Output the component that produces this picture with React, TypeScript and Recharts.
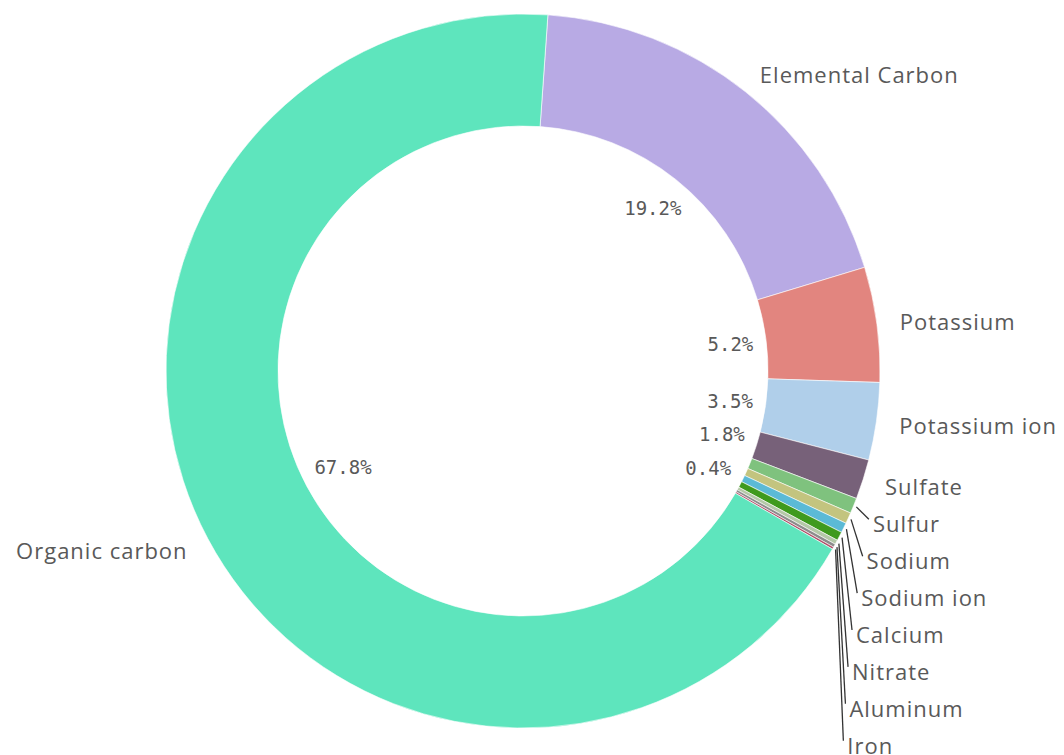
import { PieChart, Pie, Cell } from 'recharts';

// slices in clockwise order, starting just right of 12 o'clock
const COMPONENTS = [
  'Elemental Carbon',
  'Potassium',
  'Potassium ion',
  'Sulfate',
  'Sulfur',
  'Sodium',
  'Sodium ion',
  'Calcium',
  'Nitrate',
  'Aluminum',
  'Iron',
  'Organic carbon',
];
const SHARES = [19.2, 5.2, 3.5, 1.8, 0.7, 0.5, 0.45, 0.4, 0.2, 0.15, 0.1, 67.8];
const SLICE_COLORS = [
  '#b8aae4',
  '#e2857f',
  '#b0cfea',
  '#776179',
  '#7fc27e',
  '#c3c47f',
  '#5bbad6',
  '#3f9a1e',
  '#b4c8a8',
  '#8c8c8c',
  '#b0506a',
  '#5ee5bd',
];
// slices that get a percentage inside the ring
const PCT_LABELLED = ['Elemental Carbon', 'Potassium', 'Potassium ion', 'Sulfate', 'Calcium', 'Organic carbon'];

const data = COMPONENTS.map((name, i) => ({ name, value: SHARES[i] }));
const total = SHARES.reduce((a, b) => a + b, 0);

const W = 1064;
const H = 755;
const CX = 523;
const CY = 371;
const R_OUT = 357;
const R_IN = 245;
const START = 86;

const LABEL_R = 380;
const ROW = 36.9;
const PCT_R = 233;
const PCT_FONT = 19;
const TEXT_COLOR = '#595959';

type OuterPos = { x: number; y: number; anchor: 'start' | 'end'; pushed: boolean };

// natural label spot at the mid angle, pushed down when it would collide with the one above
function layoutOuterLabels(): OuterPos[] {
  const out: OuterPos[] = [];
  let acc = 0;
  let lastRightY = -Infinity;
  let k = 0;
  SHARES.forEach((v) => {
    const mid = START - (360 * (acc + v / 2)) / total;
    acc += v;
    const rad = (-mid * Math.PI) / 180;
    const nx = CX + LABEL_R * Math.cos(rad);
    const ny = CY + LABEL_R * Math.sin(rad);
    const right = nx >= CX;
    let y = ny;
    let x = nx;
    let pushed = false;
    if (right) {
      if (y < lastRightY + ROW) {
        y = lastRightY + ROW;
        pushed = true;
        x = nx - 2 - k * 0.6;
        k += 1;
      }
      lastRightY = y;
    }
    out.push({ x, y, anchor: right ? 'start' : 'end', pushed });
  });
  return out;
}

const outerLabels = layoutOuterLabels();

function renderLabel(props: any) {
  const { cx, cy, midAngle, outerRadius } = props;
  const name: string = props.payload?.name ?? props.name;
  const i = COMPONENTS.indexOf(name);
  const rad = (-midAngle * Math.PI) / 180;
  const ux = Math.cos(rad);
  const uy = Math.sin(rad);
  const pos = outerLabels[i];

  let pct = null;
  if (PCT_LABELLED.includes(name)) {
    const txt = `${((SHARES[i] / total) * 100).toFixed(1)}%`;
    const w = txt.length * PCT_FONT * 0.602;
    const h = 16;
    // keep the outer corner of the text box on a circle just inside the hole
    const ox = Math.sign(ux) * (w / 2);
    const oy = Math.sign(uy) * (h / 2);
    const uo = ux * ox + uy * oy;
    const d = -uo + Math.sqrt(uo * uo - (ox * ox + oy * oy) + PCT_R * PCT_R);
    pct = (
      <text
        x={cx + d * ux}
        y={cy + d * uy}
        textAnchor="middle"
        dominantBaseline="central"
        fontFamily="'DejaVu Sans Mono', monospace"
        fontSize={PCT_FONT}
        fill={TEXT_COLOR}
      >
        {txt}
      </text>
    );
  }

  return (
    <g key={`lbl-${name}`}>
      {pct}
      {pos.pushed && (
        <line
          x1={cx + (outerRadius + 3) * ux}
          y1={cy + (outerRadius + 3) * uy}
          x2={pos.x - 4}
          y2={pos.y - 4}
          stroke="#333"
          strokeWidth={1.3}
        />
      )}
      <text
        x={pos.x}
        y={pos.y}
        textAnchor={pos.anchor}
        dominantBaseline="central"
        fontFamily="'Open Sans', sans-serif"
        fontSize={22}
        letterSpacing={1}
        fill={TEXT_COLOR}
      >
        {name}
      </text>
    </g>
  );
}

export default function App() {
  return (
    <div style={{ position: 'absolute', left: 0, top: 0, width: W, height: H, overflow: 'hidden', background: '#fff' }}>
      <style>{'html,body{margin:0;overflow:hidden}'}</style>
      <PieChart width={W} height={H} margin={{ top: 0, right: 0, bottom: 0, left: 0 }}>
        <Pie
          data={data}
          dataKey="value"
          nameKey="name"
          cx={CX}
          cy={CY}
          innerRadius={R_IN}
          outerRadius={R_OUT}
          startAngle={START}
          endAngle={START - 360}
          stroke="#ffffff"
          strokeWidth={0.6}
          label={renderLabel}
          labelLine={false}
          isAnimationActive={false}
        >
          {data.map((d, i) => (
            <Cell key={d.name} fill={SLICE_COLORS[i]} />
          ))}
        </Pie>
      </PieChart>
    </div>
  );
}
